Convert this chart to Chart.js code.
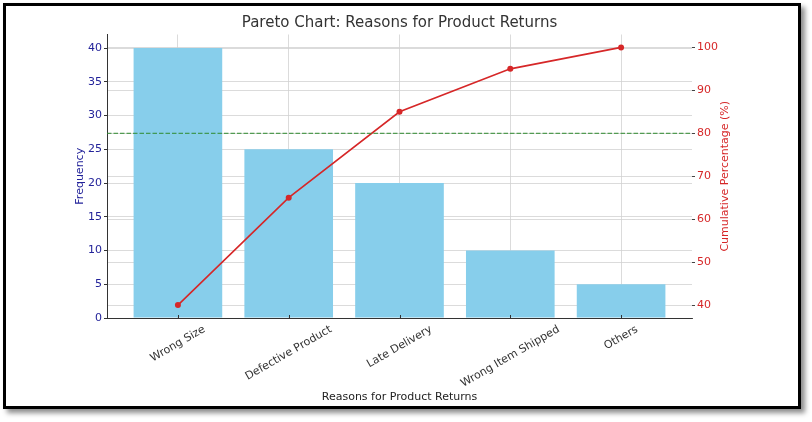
<!DOCTYPE html>
<html>
<head>
<meta charset="utf-8">
<title>Pareto Chart: Reasons for Product Returns</title>
<script src="https://cdn.jsdelivr.net/npm/chart.js@4.4.0/dist/chart.umd.min.js"></script>
<style>
  html, body { margin: 0; padding: 0; background: #fff; }
  #frame {
    position: absolute;
    left: 3px;
    top: 3px;
    width: 792px;
    height: 400px;
    border: 3px solid #000;
    background: #fff;
    box-shadow: 4px 4px 5px rgba(0, 0, 0, 0.45);
  }
  #paretoChart { display: block; }
</style>
</head>
<body>
<div id="frame">
  <canvas id="paretoChart" width="792" height="400"></canvas>
</div>
<script>
// values
const categories = ["Wrong Size", "Defective Product", "Late Delivery", "Wrong Item Shipped", "Others"];
const frequency = [40, 25, 20, 10, 5];
const cumulativePct = [40, 65, 85, 95, 100];
const threshold = 80;
const freqTicks = [0, 5, 10, 15, 20, 25, 30, 35, 40];
const pctTicks = [40, 50, 60, 70, 80, 90, 100];

const blue = "#23239a";
const red = "#d62728";
const gridColor = "#d2d2d2";
const gridDash = [3, 1.5];

Chart.defaults.font.family = "'DejaVu Sans', sans-serif";
Chart.defaults.font.size = 11;

// extra bits matplotlib draws that chart.js doesn't: 80% line, centred rotated labels, right title
const paretoExtras = {
  id: "paretoExtras",
  afterDatasetsDraw(chart) {
    const { ctx, chartArea, scales } = chart;
    const y = scales.y1.getPixelForValue(threshold);
    ctx.save();
    ctx.strokeStyle = "#2f8a2f";
    ctx.lineWidth = 1;
    ctx.setLineDash([4.5, 2]);
    ctx.beginPath();
    ctx.moveTo(chartArea.left, y);
    ctx.lineTo(chartArea.right, y);
    ctx.stroke();
    ctx.restore();
  },
  afterDraw(chart) {
    const { ctx, chartArea, scales } = chart;
    const xs = scales.x;
    const ang = Math.PI / 6;
    ctx.save();
    // small inward ticks on the bottom axis
    ctx.strokeStyle = "#333";
    ctx.lineWidth = 1;
    categories.forEach((c, i) => {
      const px = Math.round(xs.getPixelForValue(i)) + 0.5;
      ctx.beginPath();
      ctx.moveTo(px, chartArea.bottom);
      ctx.lineTo(px, chartArea.bottom - 3);
      ctx.stroke();
    });
    // category labels, rotated 30deg and centred under the tick
    ctx.font = "11px 'DejaVu Sans', sans-serif";
    ctx.fillStyle = "#333";
    ctx.textAlign = "center";
    ctx.textBaseline = "middle";
    categories.forEach((c, i) => {
      const w = ctx.measureText(c).width;
      const h = 12.8;
      const boxH = w * Math.sin(ang) + h * Math.cos(ang);
      ctx.save();
      ctx.translate(xs.getPixelForValue(i), chartArea.bottom + 5 + boxH / 2);
      ctx.rotate(-ang);
      ctx.fillText(c, 0, 0);
      ctx.restore();
    });
    // right axis title reads bottom to top like matplotlib
    ctx.fillStyle = red;
    ctx.translate(chartArea.right + 33, (chartArea.top + chartArea.bottom) / 2);
    ctx.rotate(-Math.PI / 2);
    ctx.fillText("Cumulative Percentage (%)", 0, 0);
    ctx.restore();
  }
};

const ctx = document.getElementById("paretoChart").getContext("2d");
const chart = new Chart(ctx, {
  type: "bar",
  data: {
    datasets: [
      {
        type: "line",
        label: "Cumulative Percentage",
        data: categories.map((c, i) => ({ x: i, y: cumulativePct[i] })),
        yAxisID: "y1",
        borderColor: red,
        backgroundColor: red,
        borderWidth: 1.6,
        pointRadius: 3,
        pointBorderWidth: 0,
        pointBackgroundColor: red,
        order: 0
      },
      {
        label: "Frequency",
        data: categories.map((c, i) => ({ x: i, y: frequency[i] })),
        yAxisID: "y",
        backgroundColor: "#87ceeb",
        borderWidth: 0,
        barPercentage: 0.8,
        categoryPercentage: 1.0,
        order: 1
      }
    ]
  },
  options: {
    responsive: false,
    animation: false,
    layout: { padding: 0 },
    plugins: {
      legend: { display: false },
      tooltip: { enabled: false },
      title: {
        display: true,
        text: "Pareto Chart: Reasons for Product Returns",
        color: "#333",
        fullSize: false,
        font: { size: 15, weight: "normal" },
        padding: { top: 8, bottom: 2.5 }
      }
    },
    scales: {
      x: {
        type: "linear",
        min: -0.64,
        max: 4.64,
        offset: false,
        afterBuildTicks: (scale) => {
          scale.ticks = categories.map((c, i) => ({ value: i }));
        },
        afterFit: (scale) => { scale.height = 88; },
        ticks: { display: false },
        grid: {
          offset: false,
          color: gridColor,
          lineWidth: 0.8,
          borderDash: gridDash,
          drawTicks: false
        },
        border: { display: true, color: "#333", width: 1 },
        title: {
          display: true,
          text: "Reasons for Product Returns",
          color: "#222",
          font: { size: 11 },
          padding: { top: 0, bottom: 2.4 }
        }
      },
      y: {
        position: "left",
        min: 0,
        max: 42,
        afterBuildTicks: (scale) => {
          scale.ticks = freqTicks.map((v) => ({ value: v }));
        },
        afterFit: (scale) => { scale.width = 101; },
        ticks: { color: blue, padding: 2 },
        grid: {
          color: gridColor,
          lineWidth: 0.8,
          borderDash: gridDash,
          tickLength: 3,
          tickColor: "#333",
          tickBorderDash: [],
          tickWidth: 1
        },
        border: { display: true, color: "#333", width: 1 },
        title: {
          display: true,
          text: "Frequency",
          color: blue,
          font: { size: 11 },
          padding: { top: 67.4, bottom: 0 }
        }
      },
      y1: {
        position: "right",
        min: 37,
        max: 103,
        afterBuildTicks: (scale) => {
          scale.ticks = pctTicks.map((v) => ({ value: v }));
        },
        afterFit: (scale) => { scale.width = 106; },
        ticks: { color: red, padding: 2 },
        grid: {
          color: gridColor,
          lineWidth: 0.8,
          borderDash: gridDash,
          tickLength: 3,
          tickColor: "#444",
          tickBorderDash: [],
          tickWidth: 1
        },
        border: { display: false }
      }
    }
  },
  plugins: [paretoExtras]
});
</script>
</body>
</html>
